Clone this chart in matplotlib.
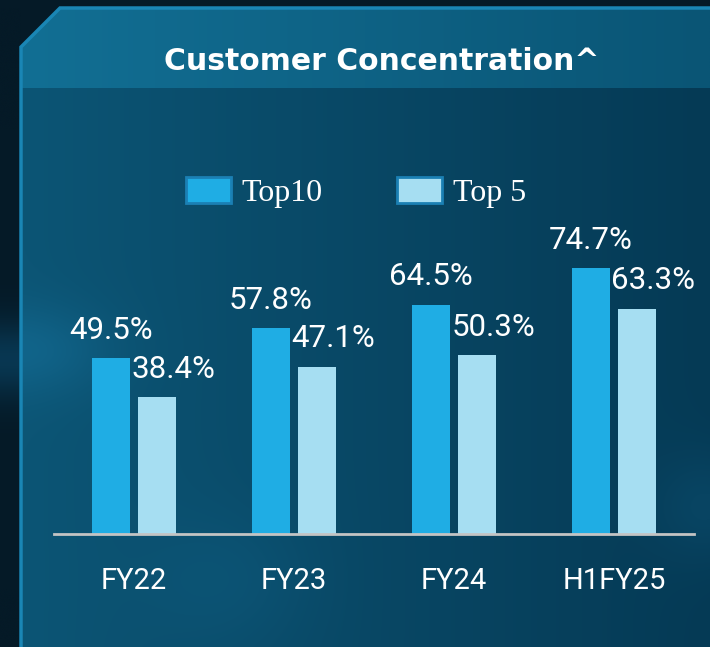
import matplotlib.pyplot as plt
import numpy as np
from matplotlib.colors import LinearSegmentedColormap
from matplotlib.patches import Polygon

categories = ["FY22", "FY23", "FY24", "H1FY25"]
top10 = [49.5, 57.8, 64.5, 74.7]
top5 = [38.4, 47.1, 50.3, 63.3]
series_names = ["Top10", "Top 5"]

W, H = 710, 647
SANS = ["Roboto", "DejaVu Sans"]


def draw_background(fig):
    bg = fig.add_axes([0, 0, 1, 1], zorder=-10)
    bg.set_facecolor("#051a27")

    # soft glow outside the panel on the left
    xs = np.linspace(0, 1, 50)
    ys = np.linspace(0, 1, 300)
    gx, gy = np.meshgrid(xs, ys)
    outer = np.exp(-((gy - 0.55) / 0.06) ** 2) * 0.45
    dark = np.array([0x05, 0x1a, 0x27]) / 255
    blue = np.array([0x0c, 0x5a, 0x85]) / 255
    oimg = dark[None, None, :] * (1 - outer[..., None]) + blue[None, None, :] * outer[..., None]
    bg.imshow(oimg, extent=(0, 21, H, 8), aspect="auto", interpolation="bicubic")

    panel = Polygon([(21, H), (21, 47), (60, 8), (W, 8), (W, H)], closed=True,
                    facecolor="none", edgecolor="none")
    bg.add_patch(panel)

    # body gradient with a few soft glows
    xs = np.linspace(0, 1, 300)
    ys = np.linspace(0, 1, 300)
    gx, gy = np.meshgrid(xs, ys)
    left = np.array([0x0c, 0x55, 0x75]) / 255
    right = np.array([0x05, 0x3a, 0x55]) / 255
    img = left[None, None, :] * (1 - gx[..., None]) + right[None, None, :] * gx[..., None]
    glow = np.exp(-(((gx - 0.0) / 0.12) ** 2 + ((gy - 0.47) / 0.08) ** 2)) * 0.35
    glow += np.exp(-(((gx - 0.3) / 0.12) ** 2 + ((gy - 0.88) / 0.12) ** 2)) * 0.12
    glow += np.exp(-(((gx - 1.0) / 0.08) ** 2 + ((gy - 0.75) / 0.1) ** 2)) * 0.15
    glow_col = np.array([0x1a, 0x80, 0xb0]) / 255
    img = img * (1 - glow[..., None]) + glow_col[None, None, :] * glow[..., None]
    im = bg.imshow(img, extent=(21, W, H, 88), aspect="auto", interpolation="bicubic")
    im.set_clip_path(panel)

    cmap = LinearSegmentedColormap.from_list("band", ["#126f94", "#0a5575"])
    band = bg.imshow(np.linspace(0, 1, 256)[None, :], cmap=cmap, extent=(21, W, 88, 8),
                     aspect="auto")
    band.set_clip_path(panel)

    bg.plot([21, 21, 60, W], [H, 47, 8, 8], color="#1a86b5", lw=2.5,
            solid_joinstyle="miter")
    bg.set_xlim(0, W)
    bg.set_ylim(H, 0)
    bg.axis("off")


fig = plt.figure(figsize=(W / 100, H / 100), dpi=100)
fig.patch.set_facecolor("#051a27")
draw_background(fig)

ax = fig.add_axes([54 / W, 113 / H, 640 / W, 355.6 / H])
ax.patch.set_alpha(0)

x = np.arange(len(categories))
off = 0.144
bw = 0.2375
b1 = ax.bar(x - off, top10, bw, color="#1fade4", label=series_names[0])
b2 = ax.bar(x + off, top5, bw, color="#a6def2", label=series_names[1])

for xi, v in zip(x, top10):
    ax.annotate(f"{v}%", (xi - off, v), xytext=(0, 14), textcoords="offset points",
                ha="center", va="baseline", color="white", fontsize=22.5, family=SANS)
for xi, v in zip(x, top5):
    ax.annotate(f"{v}%", (xi + off + 0.1, v), xytext=(0, 14), textcoords="offset points",
                ha="center", va="baseline", color="white", fontsize=22.5, family=SANS)

ax.set_xlim(-0.5, 3.5)
ax.set_ylim(0, 100)
ax.set_xticks(x)
ax.set_xticklabels(categories, color="white", fontsize=21, family=SANS)
ax.tick_params(axis="x", length=0, pad=24)
ax.set_yticks([])
for s in ["top", "left", "right"]:
    ax.spines[s].set_visible(False)
ax.spines["bottom"].set_color("#c4c4c4")
ax.spines["bottom"].set_linewidth(2)

leg = fig.legend(handles=[b1, b2], loc="center left", bbox_to_anchor=(186 / W, 1 - 192.5 / H),
                 ncol=2, frameon=False, borderpad=0, borderaxespad=0,
                 handlelength=1.4, handleheight=0.88, handletextpad=0.34,
                 columnspacing=2.33,
                 prop={"family": ["Liberation Serif", "DejaVu Serif"], "size": 23})
for t in leg.get_texts():
    t.set_color("white")
for p in leg.legend_handles:
    p.set_edgecolor("#1b80b4")
    p.set_linewidth(2)

fig.text(382 / W, 1 - 70 / H, "Customer Concentration^", ha="center", va="baseline",
         color="white", fontsize=21.5, fontweight="bold", family="DejaVu Sans")

fig.savefig("out.png", dpi=100, facecolor=fig.get_facecolor())
